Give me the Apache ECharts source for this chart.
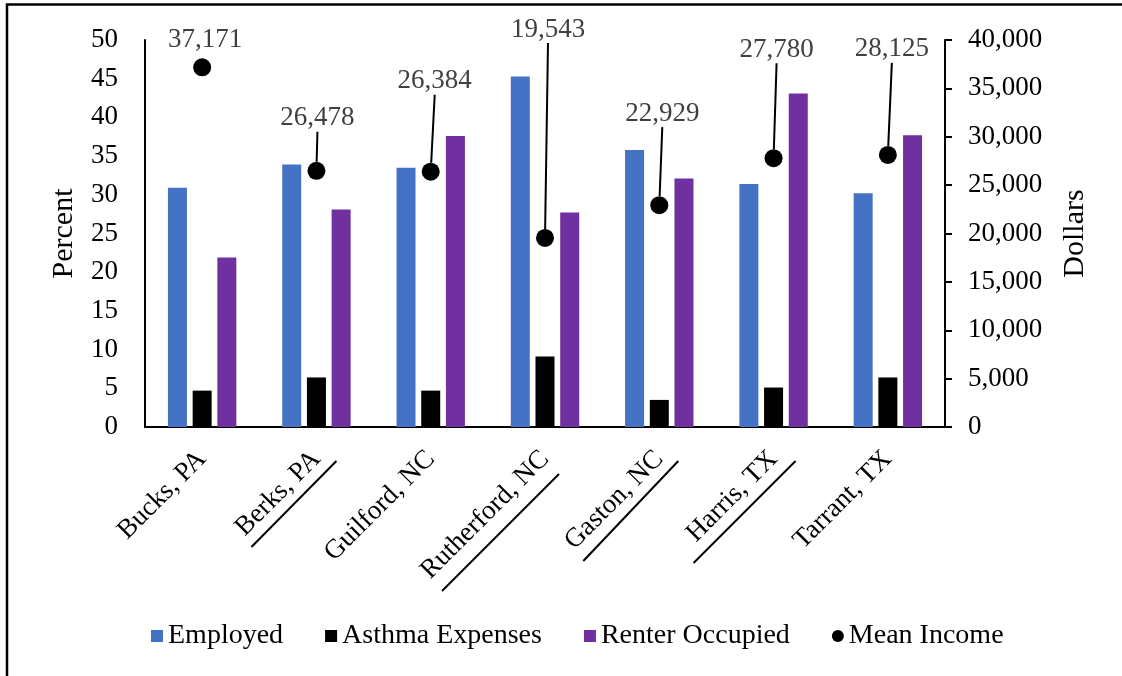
<!DOCTYPE html>
<html>
<head>
<meta charset="utf-8">
<script src="https://cdn.jsdelivr.net/npm/echarts@6/dist/echarts.min.js"></script>
<style>
  html, body { margin: 0; padding: 0; background: #fff; }
  #chart { width: 1122px; height: 676px; }
</style>
</head>
<body>
<div id="chart"></div>
<script>
// County names along the category axis
const counties = ['Bucks, PA', 'Berks, PA', 'Guilford, NC', 'Rutherford, NC', 'Gaston, NC', 'Harris, TX', 'Tarrant, TX'];

// Percent series (left axis)
const employed = [30.9, 33.9, 33.5, 45.3, 35.8, 31.4, 30.2];
const asthmaExpenses = [4.7, 6.4, 4.7, 9.1, 3.5, 5.1, 6.4];
const renterOccupied = [21.9, 28.1, 37.6, 27.7, 32.1, 43.1, 37.7];

// Dollars series (right axis)
const meanIncome = [37171, 26478, 26384, 19543, 22929, 27780, 28125];

// Tick settings
const percentTicks = { min: 0, max: 50, interval: 5 };
const dollarTicks = { min: 0, max: 40000, interval: 5000 };

// How far each income label is lifted above its dot (dx, dy in px)
const labelLift = [[3, 0], [1, -25], [4, -63], [3, -181], [3, -64], [3, -81], [4, -78]];

// Stray strokes drawn beneath some of the rotated county names
// (offsets in px from the category centre / axis baseline)
const underlines = [
  { cat: 'Berks, PA', from: [-65, 120], to: [20, 34] },
  { cat: 'Rutherford, NC', from: [-103, 164], to: [14, 47] },
  { cat: 'Gaston, NC', from: [-76, 134], to: [19, 34] },
  { cat: 'Harris, TX', from: [-80, 136], to: [22, 34] }
];

const FONT = '"Liberation Serif", "Times New Roman", serif';
const FS = 27;

const chart = echarts.init(document.getElementById('chart'), null, { renderer: 'canvas' });

const fmt = v => Number(v).toLocaleString('en-US');

// Dots whose label sits right on top of them get no guide line
const incomePoints = meanIncome.map((v, i) =>
  Math.abs(labelLift[i][1]) < 10 ? { value: v, labelLine: { show: false } } : v
);

chart.setOption({
  animation: false,
  backgroundColor: '#ffffff',
  textStyle: { fontFamily: FONT },
  grid: { left: 145, right: 177, top: 40, bottom: 249, containLabel: false },
  legend: {
    bottom: 21,
    left: 146,
    itemGap: 42,
    itemWidth: 12,
    itemHeight: 12,
    textStyle: { fontFamily: FONT, fontSize: 28, color: '#000' },
    data: [
      { name: 'Employed', icon: 'rect' },
      { name: 'Asthma Expenses', icon: 'rect' },
      { name: 'Renter Occupied', icon: 'rect' },
      { name: 'Mean Income', icon: 'circle', itemStyle: { color: '#000', opacity: 1 } }
    ]
  },
  xAxis: {
    type: 'category',
    data: counties,
    axisLine: { lineStyle: { color: '#000', width: 2 } },
    axisTick: { show: false },
    axisLabel: {
      rotate: 45,
      margin: 28,
      interval: 0,
      color: '#000',
      fontFamily: FONT,
      fontSize: FS
    }
  },
  yAxis: [
    {
      type: 'value',
      name: 'Percent',
      nameLocation: 'middle',
      nameRotate: 90,
      nameGap: 66,
      nameTextStyle: { fontFamily: FONT, fontSize: 30, color: '#000' },
      min: percentTicks.min,
      max: percentTicks.max,
      interval: percentTicks.interval,
      axisLine: { show: true, lineStyle: { color: '#000', width: 2 } },
      axisTick: { show: false },
      splitLine: { show: false },
      axisLabel: { margin: 27, color: '#000', fontFamily: FONT, fontSize: FS }
    },
    {
      type: 'value',
      name: 'Dollars',
      nameLocation: 'middle',
      nameRotate: 90,
      nameGap: 115,
      nameTextStyle: { fontFamily: FONT, fontSize: 30, color: '#000' },
      min: dollarTicks.min,
      max: dollarTicks.max,
      interval: dollarTicks.interval,
      position: 'right',
      axisLine: { show: true, lineStyle: { color: '#000', width: 2 } },
      axisTick: { show: true, length: 7, lineStyle: { color: '#000', width: 2 } },
      splitLine: { show: false },
      axisLabel: { margin: 23, color: '#000', fontFamily: FONT, fontSize: FS, formatter: fmt }
    }
  ],
  series: [
    {
      name: 'Employed',
      type: 'bar',
      data: employed,
      barWidth: 19,
      barGap: '30%',
      itemStyle: { color: '#4472C4' }
    },
    {
      name: 'Asthma Expenses',
      type: 'bar',
      data: asthmaExpenses,
      barWidth: 19,
      barGap: '30%',
      itemStyle: { color: '#000000' }
    },
    {
      name: 'Renter Occupied',
      type: 'bar',
      data: renterOccupied,
      barWidth: 19,
      barGap: '30%',
      itemStyle: { color: '#7030A0' }
    },
    {
      name: 'Mean Income',
      type: 'scatter',
      yAxisIndex: 1,
      data: incomePoints,
      symbol: 'circle',
      symbolSize: 18,
      itemStyle: { color: '#000', opacity: 1 },
      z: 5,
      label: {
        show: true,
        position: 'top',
        distance: 5,
        color: '#404040',
        fontFamily: FONT,
        fontSize: FS,
        formatter: p => fmt(p.value)
      },
      labelLine: {
        show: true,
        length2: 0,
        smooth: false,
        lineStyle: { color: '#000', width: 2 }
      },
      labelLayout: p => ({ dx: labelLift[p.dataIndex][0], dy: labelLift[p.dataIndex][1] })
    }
  ]
});

// Frame around the figure plus the strokes under the county names
const y0 = chart.convertToPixel({ yAxisIndex: 0 }, 0);
const strokes = underlines.map(u => {
  const cx = chart.convertToPixel({ xAxisIndex: 0 }, u.cat);
  return {
    type: 'line',
    silent: true,
    shape: { x1: cx + u.from[0], y1: y0 + u.from[1], x2: cx + u.to[0], y2: y0 + u.to[1] },
    style: { stroke: '#000', lineWidth: 2 }
  };
});

chart.setOption({
  graphic: [
    {
      type: 'rect',
      silent: true,
      shape: { x: 7, y: 4.5, width: 1140, height: 700 },
      style: { fill: 'none', stroke: '#000', lineWidth: 2.5 }
    }
  ].concat(strokes)
});
</script>
</body>
</html>
